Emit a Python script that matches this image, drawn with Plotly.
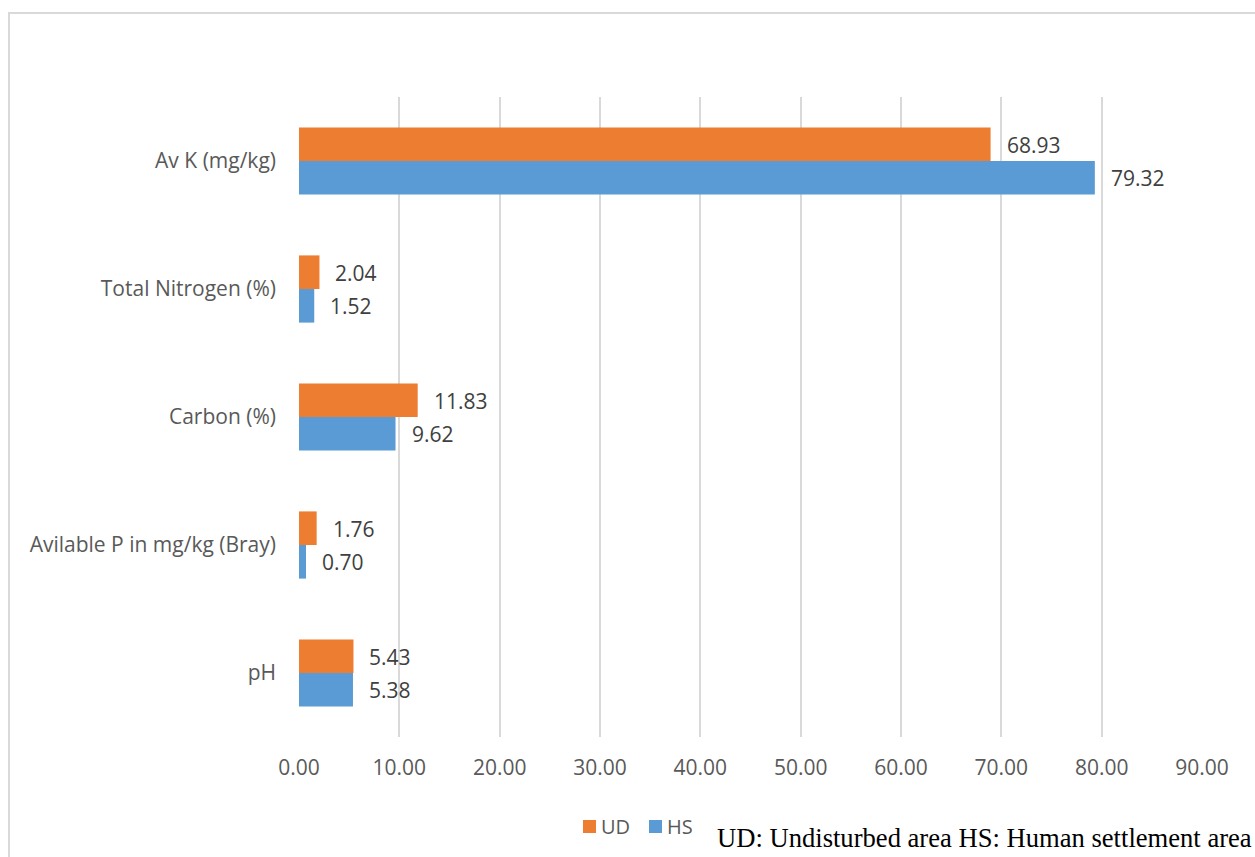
import plotly.graph_objects as go

# Soil properties (bottom to top on the chart)
categories = ["pH", "Avilable P in mg/kg (Bray)", "Carbon (%)", "Total Nitrogen (%)", "Av K (mg/kg)"]
ud_values = [5.43, 1.76, 11.83, 2.04, 68.93]   # Undisturbed area
hs_values = [5.38, 0.70, 9.62, 1.52, 79.32]    # Human settlement area
x_ticks = [0, 10, 20, 30, 40, 50, 60, 70, 80, 90]
series_names = ["UD", "HS"]

ORANGE = "#ED7D31"
BLUE = "#5B9BD5"
TEXT = "#595959"
LABEL = "#404040"
FONT = "Open Sans"
FS = 21

W, H = 1255, 857
L, R, T, B = 299, 53, 97, 120
pw = W - L - R
ph = H - T - B


def px_x(x):
    """page pixel x -> paper coordinate"""
    return (x - L) / pw


def px_y(y):
    """page pixel y -> paper coordinate"""
    return (H - B - y) / ph


fig = go.Figure()
# HS is added first so it sits in the lower slot of each group
fig.add_trace(go.Bar(y=categories, x=hs_values, orientation="h", name="HS",
                     marker=dict(color=BLUE, line=dict(width=0)), showlegend=False))
fig.add_trace(go.Bar(y=categories, x=ud_values, orientation="h", name="UD",
                     marker=dict(color=ORANGE, line=dict(width=0)), showlegend=False))

# value labels beside each bar
annotations = []
for cat, v in zip(categories, ud_values):
    annotations.append(dict(x=v, y=cat, text=f"{v:.2f}", showarrow=False,
                            xanchor="left", yanchor="middle", xshift=14, yshift=16,
                            font=dict(family=FONT, size=FS, color=LABEL)))
for cat, v in zip(categories, hs_values):
    annotations.append(dict(x=v, y=cat, text=f"{v:.2f}", showarrow=False,
                            xanchor="left", yanchor="middle", xshift=14, yshift=-17,
                            font=dict(family=FONT, size=FS, color=LABEL)))

# compact legend: colour square followed by series name
shapes = []
for name, color, x0 in zip(series_names, [ORANGE, BLUE], [583, 649]):
    shapes.append(dict(type="rect", xref="paper", yref="paper",
                       x0=px_x(x0), x1=px_x(x0 + 13), y0=px_y(833), y1=px_y(820),
                       fillcolor=color, line=dict(width=0)))
    annotations.append(dict(xref="paper", yref="paper", x=px_x(x0 + 16), y=px_y(826),
                            text=name, showarrow=False, xanchor="left", yanchor="middle",
                            font=dict(family=FONT, size=FS - 1, color=TEXT)))

# footnote explaining abbreviations
annotations.append(dict(xref="paper", yref="paper",
                        x=px_x(715), y=px_y(838),
                        text="UD: Undisturbed area HS: Human settlement area",
                        showarrow=False, xanchor="left", yanchor="middle",
                        font=dict(family="Liberation Serif", size=26.6, color="#000000")))

# light frame around the chart area
shapes.append(dict(type="rect", xref="paper", yref="paper",
                   x0=px_x(9), x1=px_x(W + 20), y0=px_y(H + 20), y1=px_y(13),
                   line=dict(color="#D9D9D9", width=2), fillcolor="rgba(0,0,0,0)",
                   layer="below"))

fig.update_layout(
    width=W, height=H,
    margin=dict(l=L, r=R, t=T, b=B, pad=0),
    paper_bgcolor="white", plot_bgcolor="white",
    barmode="group", bargap=0.475, bargroupgap=0,
    font=dict(family=FONT, size=FS, color=TEXT),
    xaxis=dict(range=[0, 90], tickvals=x_ticks, ticktext=[f"{t:.2f}" for t in x_ticks],
               showgrid=True, gridcolor="#D9D9D9", gridwidth=2, zeroline=False,
               showline=False, ticks="", ticklabelstandoff=16,
               tickfont=dict(family=FONT, size=FS, color=TEXT)),
    yaxis=dict(type="category", categoryorder="array", categoryarray=categories,
               showgrid=False, zeroline=False, showline=False, ticks="",
               ticklabelstandoff=22, tickfont=dict(family=FONT, size=FS, color=TEXT)),
    annotations=annotations,
    shapes=shapes,
    showlegend=False,
)

fig.write_html("out.html")
